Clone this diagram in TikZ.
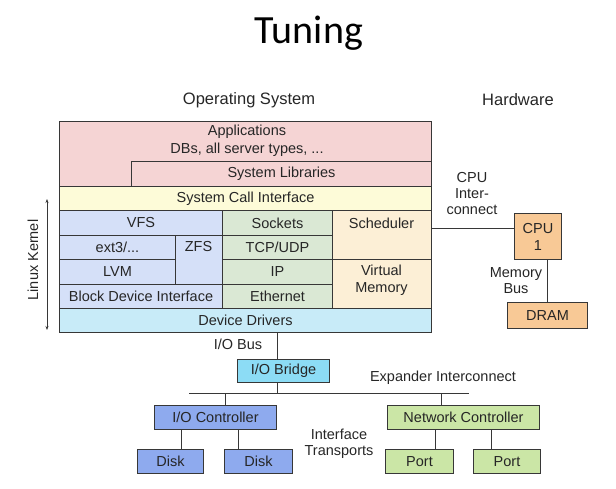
\documentclass[tikz,border=0pt]{standalone}
\usepackage{fontspec}
\setmainfont{Liberation Sans}
\newfontfamily\titlefont{Carlito}
\usetikzlibrary{arrows.meta}
\definecolor{linec}{RGB}{55,55,55}
\definecolor{apppink}{RGB}{245,212,212}
\definecolor{sysyellow}{RGB}{253,251,216}
\definecolor{fsblue}{RGB}{213,224,248}
\definecolor{netgreen}{RGB}{218,232,212}
\definecolor{schedcream}{RGB}{252,239,214}
\definecolor{ddcyan}{RGB}{200,235,248}
\definecolor{hworange}{RGB}{248,201,150}
\definecolor{bridgecyan}{RGB}{140,220,245}
\definecolor{iocblue}{RGB}{142,170,238}
\definecolor{ncgreen}{RGB}{203,230,166}
\tikzset{
  cell/.style={draw=linec, line width=1pt, anchor=north west, inner sep=0pt, font=\fontsize{14.5}{16}\selectfont, align=center, text=black!85},
  txt/.style={font=\fontsize{14.5}{16}\selectfont, align=center, inner sep=0pt, text=black!85},
  hdr/.style={font=\fontsize{16.5}{18}\selectfont, inner sep=0pt, text=black!85},
  wire/.style={draw=linec, line width=1pt},
}
\begin{document}
\begin{tikzpicture}[x=1pt,y=-1pt]
\useasboundingbox (0,0) rectangle (616,489);
\node[font=\titlefont\fontsize{40}{42}\selectfont, anchor=base, inner sep=0pt] (title) at (309,44) {Tuning};
\node[hdr] (os) at (249,100) {Operating System};
\node[hdr] (hw) at (518,100) {Hardware};

% stack
\node[cell, fill=apppink, minimum width=372pt, minimum height=65pt] (app) at (59,121) {};
\node[txt] (apptxt) at (247,141) {Applications\\[2pt]DBs, all server types, ...};
\node[cell, fill=apppink, minimum width=300pt, minimum height=25pt] (syslib) at (131,161) {System Libraries};
\node[cell, fill=sysyellow, minimum width=372pt, minimum height=24pt] (syscall) at (59,186) {System Call Interface};
\node[cell, fill=fsblue, minimum width=163pt, minimum height=25pt] (vfs) at (59,210) {VFS};
\node[cell, fill=fsblue, minimum width=116pt, minimum height=24pt] (ext) at (59,235) {ext3/...};
\node[cell, fill=fsblue, minimum width=47pt, minimum height=49pt] (zfs) at (175,235) {};
\node[txt] (zfstxt) at (198.5,247) {ZFS};
\node[cell, fill=fsblue, minimum width=116pt, minimum height=25pt] (lvm) at (59,259) {LVM};
\node[cell, fill=fsblue, minimum width=163pt, minimum height=24pt] (bdi) at (59,284) {Block Device Interface};
\node[cell, fill=netgreen, minimum width=110pt, minimum height=25pt] (sock) at (222,210) {Sockets};
\node[cell, fill=netgreen, minimum width=110pt, minimum height=24pt] (tcp) at (222,235) {TCP/UDP};
\node[cell, fill=netgreen, minimum width=110pt, minimum height=25pt] (ip) at (222,259) {IP};
\node[cell, fill=netgreen, minimum width=110pt, minimum height=24pt] (eth) at (222,284) {Ethernet};
\node[cell, fill=schedcream, minimum width=99pt, minimum height=49pt] (sched) at (332,210) {};
\node[txt] (schedtxt) at (381.5,223) {Scheduler};
\node[cell, fill=schedcream, minimum width=99pt, minimum height=49pt] (vm) at (332,259) {};
\node[txt] (vmtxt) at (381.5,280) {Virtual\\[1pt]Memory};
\node[cell, fill=ddcyan, minimum width=372pt, minimum height=24pt] (dd) at (59,308) {Device Drivers};

% linux kernel
\coordinate (lkt) at (47,199);
\coordinate (lkb) at (47,330);
\draw[linec, line width=0.8pt, {Stealth[length=4pt,width=3pt]}-{Stealth[length=4pt,width=3pt]}] (lkt) -- (lkb);
\node[txt, rotate=90] (lk) at (33,260) {Linux Kernel};

% hardware
\node[cell, fill=hworange, minimum width=47pt, minimum height=46pt] (cpu) at (514,213) {CPU\\[1pt]1};
\node[cell, fill=hworange, minimum width=80pt, minimum height=26pt] (dram) at (507,302) {DRAM};
\node[txt] (cpuic) at (472,194) {CPU\\Inter-\\connect};
\node[txt] (membus) at (516,281) {Memory\\Bus};
\coordinate (cpuy) at (0,229);
\draw[wire] (sched.east |- cpuy) -- (cpu.west |- cpuy);
\draw[wire] (dram.north) -- (dram.north |- cpu.south);

% I/O
\node[cell, fill=bridgecyan, minimum width=92pt, minimum height=23pt] (bridge) at (237,359) {I/O Bridge};
\node[cell, fill=iocblue, minimum width=122pt, minimum height=24pt] (ioc) at (154,405) {I/O Controller};
\node[cell, fill=ncgreen, minimum width=152pt, minimum height=24pt] (nc) at (387,405) {Network Controller};
\node[cell, fill=iocblue, minimum width=66pt, minimum height=24pt] (disk1) at (137,449) {Disk};
\node[cell, fill=iocblue, minimum width=68pt, minimum height=24pt] (disk2) at (224,449) {Disk};
\node[cell, fill=ncgreen, minimum width=68pt, minimum height=24pt] (port1) at (385,449) {Port};
\node[cell, fill=ncgreen, minimum width=67pt, minimum height=24pt] (port2) at (473,449) {Port};

\node[txt] (iobus) at (238,344) {I/O Bus};
\node[txt] (expic) at (443,378) {Expander Interconnect};
\node[txt] (ift) at (339,444) {Interface\\Transports};

\coordinate (busL) at (189,393);
\coordinate (busR) at (469,393);
\coordinate (iobx) at (277,0);
\coordinate (iocx) at (225,0);
\coordinate (ncx) at (441,0);
\coordinate (d1x) at (181,0);
\coordinate (d2x) at (238,0);
\coordinate (p1x) at (435,0);
\coordinate (p2x) at (491,0);
\draw[wire] (busL) -- (busR);
\draw[wire] (iobx |- dd.south) -- (iobx |- bridge.north);
\draw[wire] (iobx |- bridge.south) -- (iobx |- busL);
\draw[wire] (iocx |- busL) -- (iocx |- ioc.north);
\draw[wire] (ncx |- busL) -- (ncx |- nc.north);
\draw[wire] (d1x |- ioc.south) -- (d1x |- disk1.north);
\draw[wire] (d2x |- ioc.south) -- (d2x |- disk2.north);
\draw[wire] (p1x |- nc.south) -- (p1x |- port1.north);
\draw[wire] (p2x |- nc.south) -- (p2x |- port2.north);
\end{tikzpicture}
\end{document}
